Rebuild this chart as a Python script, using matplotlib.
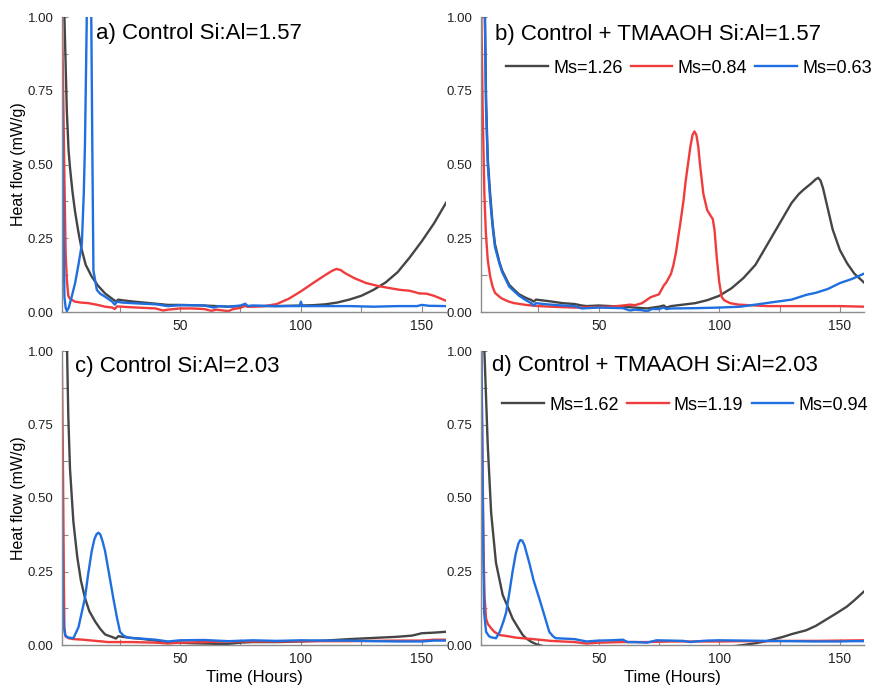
import matplotlib
matplotlib.use("Agg")
import matplotlib.pyplot as plt
from matplotlib.ticker import MultipleLocator, FormatStrFormatter

plt.rcParams['font.family'] = ['Liberation Sans', 'DejaVu Sans']

# ---------------- data ----------------
titles = ["a) Control Si:Al=1.57", "b) Control + TMAAOH Si:Al=1.57",
          "c) Control Si:Al=2.03", "d) Control + TMAAOH Si:Al=2.03"]
legend_top = ["Ms=1.26", "Ms=0.84", "Ms=0.63"]
legend_bottom = ["Ms=1.62", "Ms=1.19", "Ms=0.94"]

# panel a
a_black_x = [1.8, 2.2, 3.2, 3.9, 4.5, 5.5, 6.6, 8, 9.4, 11, 13.5, 16, 19, 22.4, 23.5, 24.5, 26, 30, 35, 40, 45, 50, 55, 60, 65, 70, 75, 80, 85, 90, 95, 100, 105, 110, 115, 120, 125, 130, 135, 140, 145, 150, 155, 160]
a_black_y = [1.2, 1.0, 0.68, 0.55, 0.49, 0.41, 0.34, 0.27, 0.21, 0.16, 0.12, 0.09, 0.063, 0.042, 0.036, 0.042, 0.04, 0.036, 0.032, 0.028, 0.024, 0.024, 0.023, 0.022, 0.02, 0.018, 0.02, 0.02, 0.02, 0.02, 0.021, 0.022, 0.023, 0.026, 0.032, 0.042, 0.055, 0.075, 0.1, 0.135, 0.185, 0.24, 0.3, 0.37]
a_red_x = [1.1, 1.6, 2.2, 2.7, 3.2, 3.8, 4.5, 6.6, 9, 12.1, 16, 19, 22, 23, 24, 26, 30, 35, 40, 43, 45, 50, 55, 60, 63, 65, 68, 70, 72, 75, 77, 78, 80, 85, 90, 95, 100, 105, 110, 113, 114.7, 116.5, 118, 122, 127, 132, 136, 141, 145, 149, 152, 155, 158, 160]
a_red_y = [1.05, 0.8, 0.45, 0.2, 0.11, 0.055, 0.045, 0.035, 0.032, 0.03, 0.024, 0.018, 0.015, 0.01, 0.019, 0.018, 0.016, 0.014, 0.012, 0.005, 0.008, 0.012, 0.012, 0.01, 0.004, 0.008, 0.005, 0.003, 0.01, 0.014, 0.022, 0.018, 0.018, 0.02, 0.027, 0.045, 0.07, 0.098, 0.125, 0.14, 0.146, 0.142, 0.133, 0.115, 0.098, 0.088, 0.082, 0.075, 0.072, 0.063, 0.062, 0.055, 0.045, 0.038]
a_blue_x = [0.8, 1.3, 1.8, 2.2, 2.7, 3.2, 4, 5, 6.6, 8, 9.4, 10.2, 10.7, 11.4, 11.8, 12.8, 13.3, 13.8, 14.2, 15.6, 17, 19, 22, 23, 24, 26, 30, 35, 40, 45, 50, 55, 60, 64, 66, 70, 75, 77, 78, 80, 90, 99.5, 100, 100.5, 110, 120, 130, 140, 148, 150, 153, 160]
a_blue_y = [1.1, 0.7, 0.3, 0.05, 0.015, 0.003, 0.015, 0.045, 0.097, 0.16, 0.23, 0.4, 0.57, 0.97, 1.3, 1.3, 1.0, 0.5, 0.14, 0.075, 0.062, 0.052, 0.035, 0.025, 0.035, 0.032, 0.03, 0.028, 0.026, 0.02, 0.023, 0.023, 0.022, 0.015, 0.02, 0.018, 0.022, 0.028, 0.02, 0.022, 0.02, 0.02, 0.035, 0.02, 0.02, 0.02, 0.018, 0.02, 0.02, 0.024, 0.021, 0.02]

# panel b
b_black_x = [2.5, 3.3, 4, 5, 6, 7, 8.8, 10, 12.9, 15, 17, 20, 22, 23, 24, 26, 30, 35, 40, 43, 45, 50, 55, 60, 65, 70, 75, 77, 78, 80, 85, 90, 95, 100, 105, 110, 115, 120, 125, 130, 133, 135, 138, 140, 141, 142, 143, 145, 147, 150, 153, 156, 160]
b_black_y = [1.2, 0.72, 0.52, 0.4, 0.3, 0.23, 0.17, 0.14, 0.092, 0.075, 0.06, 0.047, 0.041, 0.035, 0.042, 0.04, 0.036, 0.03, 0.027, 0.022, 0.02, 0.022, 0.02, 0.018, 0.015, 0.012, 0.018, 0.022, 0.015, 0.02, 0.025, 0.03, 0.04, 0.055, 0.08, 0.115, 0.16, 0.23, 0.3, 0.37, 0.4, 0.415, 0.435, 0.45, 0.455, 0.445, 0.42, 0.35, 0.28, 0.21, 0.165, 0.13, 0.1]
b_red_x = [1.2, 1.9, 2.6, 3.2, 4, 5, 6, 7, 8.8, 10, 12.8, 15, 19.8, 25, 30, 40, 50, 55, 60, 63, 65, 68, 71.5, 75, 77, 78, 80, 81, 82, 84, 85.2, 86, 87, 88, 88.9, 89.7, 90.5, 91.3, 92, 93.4, 95, 96.5, 97.3, 98, 99, 100, 101, 102, 104.5, 108, 115, 120, 130, 140, 150, 160]
b_red_y = [1.1, 0.685, 0.4, 0.27, 0.176, 0.12, 0.086, 0.065, 0.052, 0.045, 0.035, 0.03, 0.024, 0.02, 0.018, 0.015, 0.017, 0.018, 0.022, 0.025, 0.023, 0.03, 0.05, 0.06, 0.09, 0.1, 0.13, 0.16, 0.2, 0.31, 0.38, 0.44, 0.5, 0.56, 0.6, 0.612, 0.6, 0.56, 0.5, 0.4, 0.345, 0.325, 0.315, 0.28, 0.18, 0.1, 0.051, 0.04, 0.03, 0.025, 0.022, 0.02, 0.02, 0.02, 0.02, 0.018]
b_blue_x = [2.5, 3.3, 4, 5, 6, 7, 8.8, 10, 12.9, 15, 17, 19.8, 22, 23, 24, 26, 30, 35, 40, 43, 45, 50, 55, 60, 63, 65, 68, 70, 72, 75, 77, 78, 80, 90, 100, 108.7, 115, 122, 130, 136, 140, 145, 150, 155, 160]
b_blue_y = [1.2, 0.685, 0.5, 0.38, 0.29, 0.22, 0.165, 0.135, 0.086, 0.07, 0.055, 0.04, 0.03, 0.022, 0.03, 0.028, 0.025, 0.022, 0.02, 0.012, 0.013, 0.015, 0.014, 0.013, 0.005, 0.008, 0.006, 0.002, 0.01, 0.01, 0.015, 0.01, 0.012, 0.013, 0.015, 0.018, 0.025, 0.033, 0.042, 0.058, 0.065, 0.078, 0.098, 0.112, 0.13]

# panel c
c_black_x = [3.0, 3.3, 3.8, 4.5, 5.9, 7.5, 9, 10.7, 12.5, 14.9, 17, 19, 22.3, 23.5, 24.5, 26, 30, 35, 40, 45, 50, 55, 60, 65, 70, 75, 80, 90, 100, 110, 120, 130, 140, 146, 150, 155, 160]
c_black_y = [1.2, 1.0, 0.78, 0.6, 0.42, 0.3, 0.22, 0.16, 0.115, 0.08, 0.055, 0.036, 0.026, 0.022, 0.03, 0.028, 0.024, 0.02, 0.015, 0.01, 0.008, 0.006, 0.005, 0.004, 0.004, 0.008, 0.01, 0.01, 0.012, 0.015, 0.02, 0.024, 0.028, 0.032, 0.04, 0.042, 0.045]
c_red_x = [1.1, 1.5, 1.8, 2.0, 2.2, 2.6, 3.9, 6, 10, 15, 18, 20, 25, 30, 40, 45, 50, 60, 70, 80, 90, 100, 110, 120, 130, 140, 150, 155, 160]
c_red_y = [1.0, 0.7, 0.4, 0.2, 0.06, 0.03, 0.023, 0.02, 0.018, 0.014, 0.012, 0.01, 0.01, 0.01, 0.008, 0.005, 0.008, 0.01, 0.012, 0.012, 0.012, 0.013, 0.013, 0.013, 0.014, 0.015, 0.015, 0.018, 0.018]
c_blue_x = [0.9, 1.1, 1.3, 1.6, 2.0, 2.5, 3.5, 5.9, 8, 10.7, 12, 13.5, 14.6, 15.5, 16.3, 17.1, 18, 19, 20.5, 22.4, 24, 25.2, 26.6, 28.6, 30, 35, 40, 45, 50, 60, 70, 80, 90, 100, 110, 120, 130, 140, 150, 155, 160]
c_blue_y = [0.83, 0.7, 0.4, 0.15, 0.06, 0.034, 0.026, 0.023, 0.06, 0.16, 0.24, 0.32, 0.36, 0.377, 0.382, 0.375, 0.352, 0.32, 0.25, 0.16, 0.09, 0.045, 0.032, 0.025, 0.024, 0.021, 0.018, 0.012, 0.016, 0.017, 0.013, 0.016, 0.014, 0.016, 0.015, 0.015, 0.013, 0.012, 0.012, 0.015, 0.015]

# panel d
d_black_x = [2.3, 2.6, 4, 5.4, 7.4, 10.2, 12.3, 14.3, 16.5, 18.5, 20, 22, 24, 27, 30, 40, 50, 60, 70, 80, 90, 100, 105, 110, 115, 120, 126.6, 130, 136, 140, 144, 148, 152.8, 156, 160]
d_black_y = [1.2, 1.0, 0.68, 0.45, 0.28, 0.17, 0.13, 0.09, 0.06, 0.034, 0.022, 0.011, 0.003, -0.004, -0.008, -0.01, -0.01, -0.01, -0.01, -0.01, -0.01, -0.008, -0.005, 0.0, 0.006, 0.014, 0.028, 0.037, 0.05, 0.065, 0.085, 0.105, 0.13, 0.152, 0.182]
d_red_x = [1.2, 1.6, 1.9, 2.3, 2.7, 3.3, 4, 5.4, 6.7, 8.8, 12.3, 15.7, 20, 26.7, 30, 35, 40, 45, 50, 60, 70, 80, 90, 100, 110, 120, 130, 140, 150, 160]
d_red_y = [1.0, 0.8, 0.57, 0.3, 0.16, 0.09, 0.072, 0.057, 0.045, 0.034, 0.03, 0.025, 0.022, 0.017, 0.014, 0.012, 0.01, 0.005, 0.008, 0.01, 0.01, 0.012, 0.012, 0.012, 0.013, 0.013, 0.014, 0.014, 0.015, 0.016]
d_blue_x = [1.4, 1.7, 2.1, 2.5, 3.3, 4.5, 5.5, 7.4, 9, 10.5, 11.6, 13, 14.3, 15.6, 16.7, 17.5, 18.3, 19.2, 21.2, 23, 25.3, 27.5, 29.5, 31, 32.2, 35, 40, 45, 50, 55, 60, 62, 65, 70, 74, 80, 85, 88, 90, 95, 100, 110, 120, 130, 140, 150, 155, 160]
d_blue_y = [1.0, 0.7, 0.35, 0.11, 0.045, 0.03, 0.026, 0.023, 0.045, 0.08, 0.11, 0.18, 0.25, 0.31, 0.345, 0.357, 0.355, 0.34, 0.28, 0.22, 0.16, 0.1, 0.045, 0.03, 0.023, 0.022, 0.02, 0.012, 0.015, 0.016, 0.018, 0.01, 0.01, 0.008, 0.016, 0.015, 0.014, 0.01, 0.012, 0.015, 0.016, 0.015, 0.014, 0.013, 0.012, 0.012, 0.013, 0.013]

colors = ["#454545", "#f03c3c", "#1f6fe0"]

panels = [
    [(a_black_x, a_black_y), (a_red_x, a_red_y), (a_blue_x, a_blue_y)],
    [(b_black_x, b_black_y), (b_red_x, b_red_y), (b_blue_x, b_blue_y)],
    [(c_black_x, c_black_y), (c_red_x, c_red_y), (c_blue_x, c_blue_y)],
    [(d_black_x, d_black_y), (d_red_x, d_red_y), (d_blue_x, d_blue_y)],
]

W, H = 877, 690
fig = plt.figure(figsize=(W / 100, H / 100), dpi=100)

# axes rectangles in pixels (left, top, right, bottom)
rects = [(62, 17, 446, 312), (481, 17, 864, 312), (62, 351, 446, 645), (481, 351, 864, 645)]
title_pos = [(0.089, 0.944), (0.036, 0.94), (0.034, 0.946), (0.030, 0.952)]

for i, (l, t, r, b) in enumerate(rects):
    ax = fig.add_axes([l / W, 1 - b / H, (r - l) / W, (b - t) / H])
    lines = []
    for (xs, ys), c in zip(panels[i], colors):
        ln, = ax.plot(xs, ys, color=c, lw=1.7, solid_joinstyle='round')
        lines.append(ln)
    ax.set_xlim(1.2, 160)
    ax.set_ylim(0, 1)
    ax.xaxis.set_major_locator(MultipleLocator(50))
    ax.xaxis.set_minor_locator(MultipleLocator(25))
    ax.yaxis.set_major_locator(MultipleLocator(0.25))
    ax.yaxis.set_minor_locator(MultipleLocator(0.125))
    ax.yaxis.set_major_formatter(FormatStrFormatter('%.2f'))
    for s in ['top', 'right']:
        ax.spines[s].set_visible(False)
    for s in ['left', 'bottom']:
        ax.spines[s].set_color('#8c8c8c')
        ax.spines[s].set_linewidth(1.0)
    ax.tick_params(which='both', direction='in', color='#8c8c8c', width=0.8, length=4)
    ax.tick_params(axis='y', labelsize=9.5, pad=6, labelcolor='#222222')
    ax.tick_params(axis='x', labelsize=10, pad=5, labelcolor='#222222')
    ax.text(title_pos[i][0], title_pos[i][1], titles[i], transform=ax.transAxes,
            fontsize=16, ha='left', va='center', color='black')
    if i in (0, 2):
        ax.set_ylabel("Heat flow (mW/g)", fontsize=11.5, labelpad=1)
    if i in (2, 3):
        ax.set_xlabel("Time (Hours)", fontsize=12, labelpad=3)
    if i == 1:
        ax.legend(lines, legend_top, loc='center left', bbox_to_anchor=(0.066, 0.827),
                  ncol=3, frameon=False, fontsize=13, handlelength=2.3,
                  handletextpad=0.3, columnspacing=0.45, borderpad=0, borderaxespad=0)
    if i == 3:
        ax.legend(lines, legend_bottom, loc='center left', bbox_to_anchor=(0.056, 0.816),
                  ncol=3, frameon=False, fontsize=13, handlelength=2.3,
                  handletextpad=0.3, columnspacing=0.45, borderpad=0, borderaxespad=0)

fig.savefig("out.png", dpi=100)
